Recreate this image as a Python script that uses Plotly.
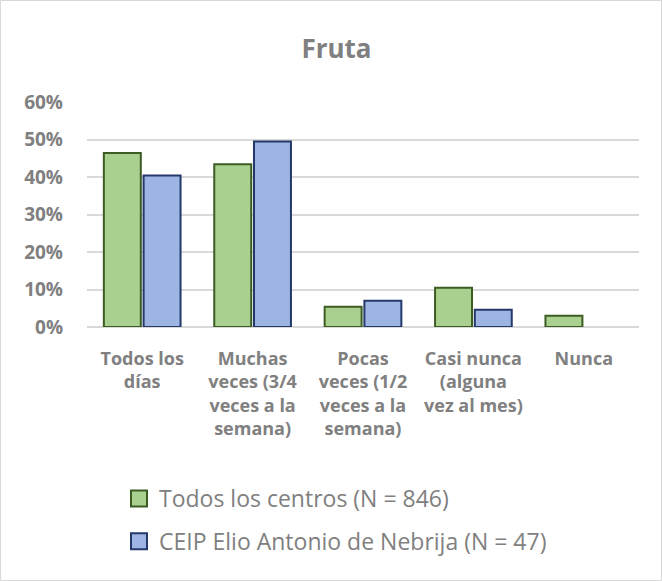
import plotly.graph_objects as go

categorias = ["Todos los<br>días",
              "Muchas<br>veces (3/4<br>veces a la<br>semana)",
              "Pocas<br>veces (1/2<br>veces a la<br>semana)",
              "Casi nunca<br>(alguna<br>vez al mes)",
              "Nunca"]
todos = [0.464, 0.434, 0.054, 0.105, 0.030]
ceip = [0.404, 0.495, 0.070, 0.046, 0.0]
series = ["Todos los centros (N = 846)", "CEIP Elio Antonio de Nebrija (N = 47)"]

W, H = 662, 581
ml, mr, mt, mb = 87, 23, 102, 254
pw, ph = W - ml - mr, H - mt - mb
gris = "#808080"
verde, verde_borde = "#a9d08e", "#3d5c24"
azul, azul_borde = "#9eb4e2", "#24396b"

fig = go.Figure()
for nombre, valores, color, borde in [(series[0], todos, verde, verde_borde),
                                      (series[1], ceip, azul, azul_borde)]:
    # sin borde en las barras de valor 0 (como en Excel)
    anchos = [2 if v > 0 else 0 for v in valores]
    fig.add_trace(go.Bar(x=categorias, y=valores, name=nombre, showlegend=False,
                         marker=dict(color=color, line=dict(color=borde, width=anchos))))
# entradas de leyenda con cuadrado más grande
for i, (nombre, color, borde) in enumerate([(series[0], verde, verde_borde),
                                            (series[1], azul, azul_borde)]):
    fig.add_trace(go.Scatter(x=[None], y=[None], mode="markers", name=nombre,
                             legendgroup=str(i),
                             marker=dict(symbol="square", size=16, color=color,
                                         line=dict(color=borde, width=2))))

fig.update_layout(
    width=W, height=H,
    margin=dict(l=ml, r=mr, t=mt, b=mb),
    paper_bgcolor="white", plot_bgcolor="white",
    font=dict(family="Open Sans", color=gris),
    title=dict(text="<b>Fruta</b>", x=336.5 / W, xref="container", xanchor="center",
               y=1 - 49 / H, yanchor="middle", font=dict(size=26, color=gris)),
    barmode="group", bargap=0.28, bargroupgap=0.07,
    xaxis=dict(tickfont=dict(size=18, color=gris, weight="bold"), showline=False,
               ticks="", tickangle=0, ticklabelstandoff=19),
    yaxis=dict(range=[0, 0.6], dtick=0.1, tickformat=".0%", gridcolor="#d9d9d9",
               gridwidth=1.5, zeroline=True, zerolinecolor="#d9d9d9", zerolinewidth=1.5,
               tickfont=dict(size=19, color=gris, weight="bold"),
               ticks="", ticklabelstandoff=23),
    legend=dict(x=(119 - ml) / pw, xanchor="left", y=-(477 - (mt + ph)) / ph,
                yanchor="top", font=dict(size=23, color=gris), tracegroupgap=10,
                itemwidth=30, bgcolor="rgba(0,0,0,0)"),
    shapes=[dict(type="rect", xref="paper", yref="paper",
                 x0=-(ml - 0.5) / pw, x1=1 + (mr - 0.5) / pw,
                 y0=-(mb - 0.5) / ph, y1=1 + (mt - 0.5) / ph,
                 line=dict(color="#d9d9d9", width=1))],
)

fig.write_html("out.html", config={"displayModeBar": False},
               post_script="document.body.style.margin='0';")
